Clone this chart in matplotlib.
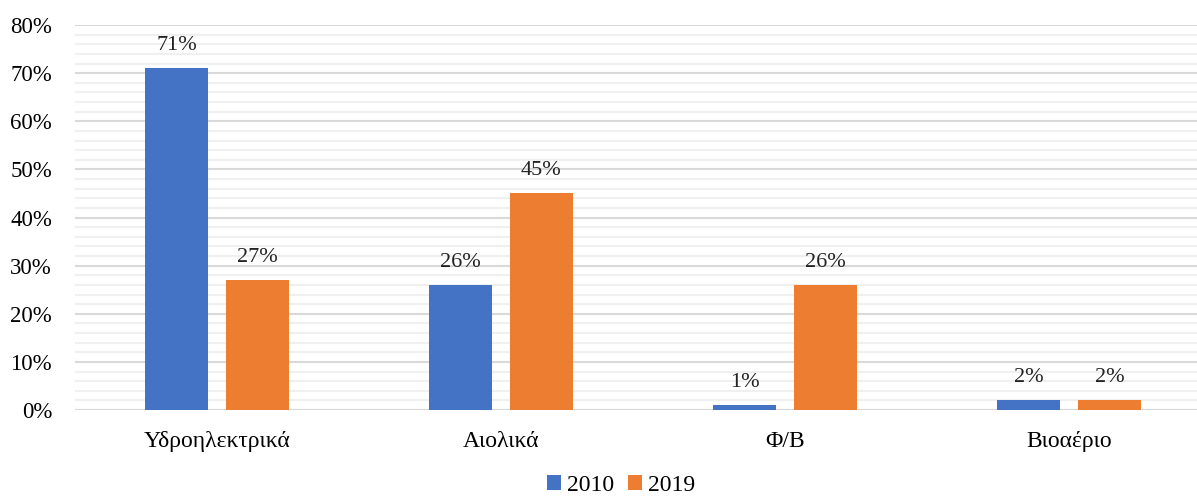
import matplotlib
matplotlib.use("Agg")
import matplotlib.pyplot as plt
import numpy as np
from matplotlib.ticker import MultipleLocator, FuncFormatter

categories = ["Υδροηλεκτρικά", "Αιολικά", "Φ/Β", "Βιοαέριο"]
series_names = ["2010", "2019"]
values_2010 = [71, 26, 1, 2]
values_2019 = [27, 45, 26, 2]
colors = ["#4472C4", "#ED7D31"]

plt.rcParams['font.family'] = ['Liberation Serif', 'DejaVu Serif']

fig = plt.figure(figsize=(11.97, 4.99), dpi=100)
ax = fig.add_axes([75/1197, 1 - 410/499, 1136/1197, 385/499])

x = np.arange(len(categories))
w = 0.222
off = 0.1426
b1 = ax.bar(x - off, values_2010, w, color=colors[0], label=series_names[0], zorder=3)
b2 = ax.bar(x + off, values_2019, w, color=colors[1], label=series_names[1], zorder=3)

for bars, vals in ((b1, values_2010), (b2, values_2019)):
    for b, v in zip(bars, vals):
        ax.text(b.get_x() + b.get_width() / 2, v + 2.7, f"{v}%", ha="center", va="bottom",
                fontsize=16, color="#222222")

ax.set_xlim(-0.5, len(categories) - 0.5)
ax.set_ylim(0, 80)
ax.yaxis.set_major_locator(MultipleLocator(10))
ax.yaxis.set_minor_locator(MultipleLocator(2))
ax.yaxis.set_major_formatter(FuncFormatter(lambda v, p: f"{int(v)}%"))
ax.grid(axis="y", which="major", color="#D9D9D9", linewidth=1.5, zorder=0)
ax.grid(axis="y", which="minor", color="#F0F0F0", linewidth=1.5, zorder=0)
ax.set_xticks(x)
ax.set_xticklabels(categories, fontsize=17)
ax.tick_params(axis="y", which="both", length=0, labelsize=16.5, pad=16.5)
ax.tick_params(axis="x", length=0, pad=15)
for s in ax.spines.values():
    s.set_visible(False)
ax.axhline(0, color="#D9D9D9", linewidth=1.5, zorder=1)

fig.legend(loc="lower center", bbox_to_anchor=(0.519, -0.036), ncol=2, frameon=False,
           fontsize=17, handlelength=0.6, handleheight=0.6, handletextpad=0.25, columnspacing=0.6)

fig.savefig("out.png", dpi=100)
